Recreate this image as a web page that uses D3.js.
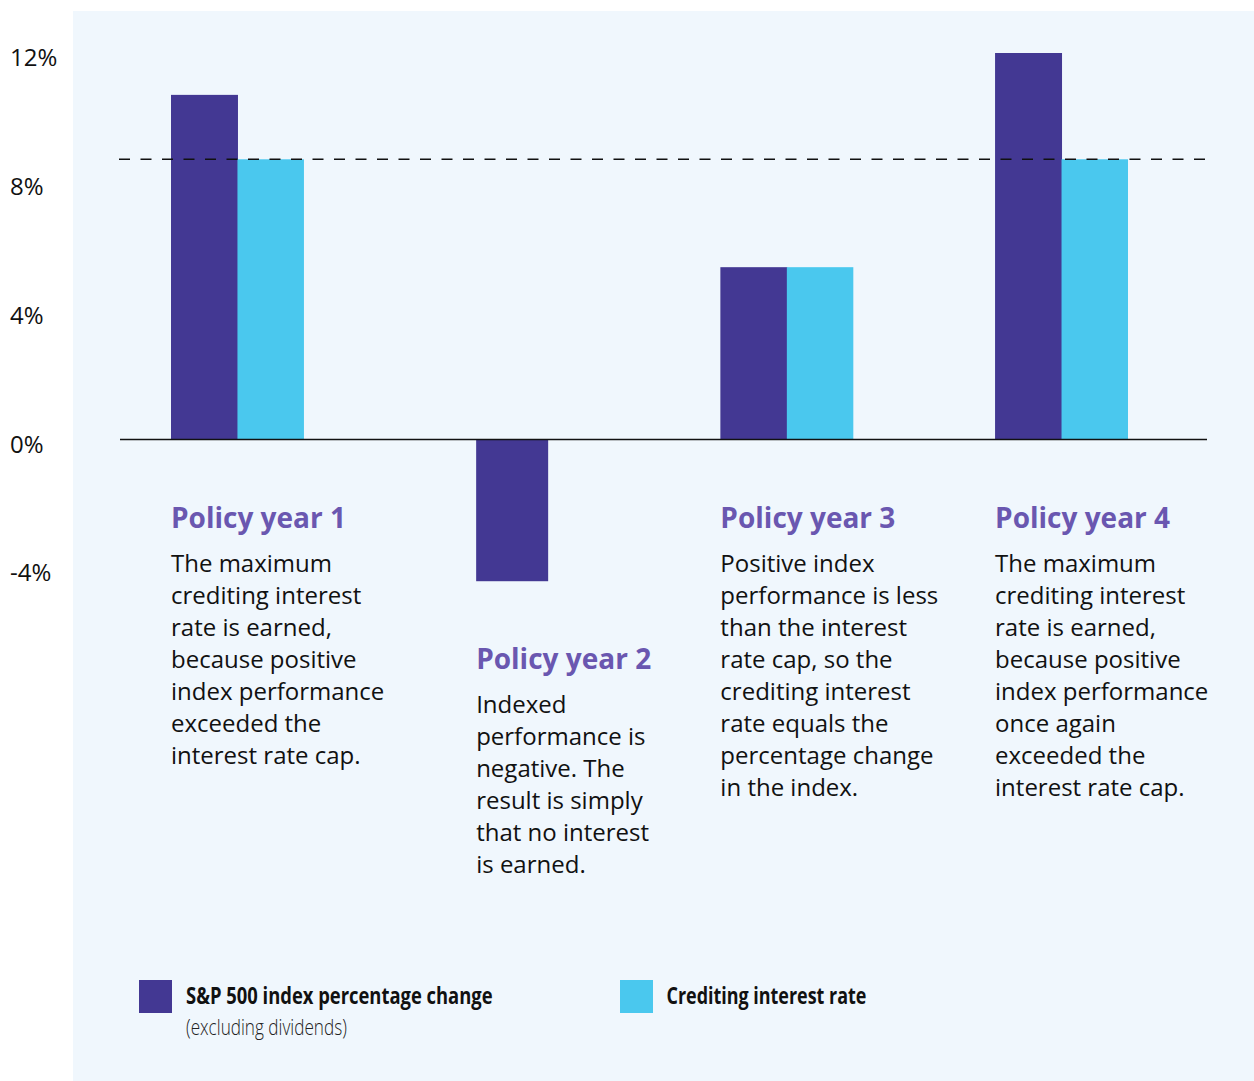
<!DOCTYPE html>
<html>
<head>
<meta charset="utf-8">
<script src="https://cdn.jsdelivr.net/npm/d3@7"></script>
<style>
  body { margin: 0; background: #fff; }
  svg { display: block; }
  .tick-label { font-family: "Open Sans", "Noto Sans", sans-serif; font-size: 24px; fill: #111; }
  .year-title { font-family: "Open Sans", "Noto Sans", sans-serif; font-weight: 700; font-size: 28px; fill: #6a57b0; }
  .year-body { font-family: "Open Sans", "Noto Sans", sans-serif; font-size: 24px; fill: #111; }
  .legend-main { font-family: "Open Sans", "Noto Sans", sans-serif; font-weight: 700; font-size: 23px; fill: #111; }
  .legend-sub { font-family: "Open Sans", "Noto Sans", sans-serif; font-weight: 300; font-size: 22px; fill: #222; }
</style>
</head>
<body>
<svg id="chart" width="1254" height="1081"></svg>
<script>
// values
var years = ["Policy year 1", "Policy year 2", "Policy year 3", "Policy year 4"];
var indexChange = [10.7, -4.4, 5.35, 12.0];
var creditingRate = [8.7, 0, 5.35, 8.7];
var rateCap = 8.7;
var yTicks = [12, 8, 4, 0, -4];
var notes = [
    ["The maximum", "crediting interest", "rate is earned,", "because positive", "index performance", "exceeded the", "interest rate cap."],
    ["Indexed", "performance is", "negative. The", "result is simply", "that no interest", "is earned."],
    ["Positive index", "performance is less", "than the interest", "rate cap, so the", "crediting interest", "rate equals the", "percentage change", "in the index."],
    ["The maximum", "crediting interest", "rate is earned,", "because positive", "index performance", "once again", "exceeded the", "interest rate cap."]
];
var legendItems = [
    {label: "S&P 500 index percentage change", sub: "(excluding dividends)", color: "#433893"},
    {label: "Crediting interest rate", sub: null, color: "#4ac8ee"}
];

var purple = "#433893", cyan = "#4ac8ee";

var svg = d3.select("#chart");

// panel background
svg.append("rect")
    .attr("x", 73).attr("y", 11)
    .attr("width", 1181).attr("height", 1070)
    .attr("fill", "#f0f7fd");

var y = d3.scaleLinear().domain([0, 12]).range([439.5, 53]);

var x = d3.scaleBand()
    .domain(years)
    .range([171, 1128])
    .paddingInner(0.516)
    .paddingOuter(0);

var half = x.bandwidth() / 2;

// y labels
svg.append("g").selectAll("text")
    .data(yTicks)
    .enter().append("text")
    .attr("class", "tick-label")
    .attr("x", 10)
    .attr("y", function (d) { return y(d) + 13; })
    .text(function (d) { return d + "%"; });

// bars
var groups = svg.append("g").selectAll("g")
    .data(years)
    .enter().append("g")
    .attr("transform", function (d) { return "translate(" + x(d) + ",0)"; });

groups.each(function (d, i) {
    var g = d3.select(this);
    var v = indexChange[i], c = creditingRate[i];
    if (c > 0) {
        g.append("rect")
            .attr("x", 0).attr("width", half + 0.5)
            .attr("y", y(Math.max(0, v)))
            .attr("height", Math.abs(y(v) - y(0)))
            .attr("fill", purple);
        g.append("rect")
            .attr("x", half).attr("width", half)
            .attr("y", y(Math.max(0, c)))
            .attr("height", Math.abs(y(c) - y(0)))
            .attr("fill", cyan);
    } else {
        // single bar, a bit wider, centered in the slot
        var w = 72;
        g.append("rect")
            .attr("x", half - w / 2).attr("width", w)
            .attr("y", y(Math.max(0, v)))
            .attr("height", Math.abs(y(v) - y(0)))
            .attr("fill", purple);
    }
});

// zero line
svg.append("line")
    .attr("x1", 120).attr("x2", 1207)
    .attr("y1", y(0)).attr("y2", y(0))
    .attr("stroke", "#111").attr("stroke-width", 1.5);

// cap line
svg.append("line")
    .attr("x1", 119).attr("x2", 1208)
    .attr("y1", y(rateCap)).attr("y2", y(rateCap))
    .attr("stroke", "#111").attr("stroke-width", 1.5)
    .attr("stroke-dasharray", "11,10.5");

// notes under each year
groups.each(function (d, i) {
    var g = d3.select(this);
    var bx = indexChange[i] < 0 && creditingRate[i] === 0 ? half - 36 : 0;
    var top = Math.max(y(0), y(indexChange[i]));
    var ty = indexChange[i] < 0 ? top + 87.5 : 528;
    g.append("text")
        .attr("class", "year-title")
        .attr("x", bx).attr("y", ty)
        .text(d);
    g.append("text")
        .attr("class", "year-body")
        .attr("x", bx)
        .selectAll("tspan")
        .data(notes[i])
        .enter().append("tspan")
        .attr("x", bx)
        .attr("y", function (t, j) { return ty + 44 + j * 32; })
        .text(function (t) { return t; });
});

// legend
var legend = svg.append("g").selectAll("g")
    .data(legendItems)
    .enter().append("g")
    .attr("transform", function (d, i) { return "translate(" + (139 + i * 481) + ",980)"; });

legend.append("rect")
    .attr("width", 33).attr("height", 33)
    .attr("fill", function (d) { return d.color; });

legend.append("text")
    .attr("class", "legend-main")
    .attr("transform", function (d, i) { return "translate(" + (i ? 46.5 : 47) + ",24) scale(" + (i ? 0.78 : 0.8) + ",1)"; })
    .text(function (d) { return d.label; });

legend.filter(function (d) { return d.sub; })
    .append("text")
    .attr("class", "legend-sub")
    .attr("transform", "translate(47,55) scale(0.78,1)")
    .text(function (d) { return d.sub; });
</script>
</body>
</html>
